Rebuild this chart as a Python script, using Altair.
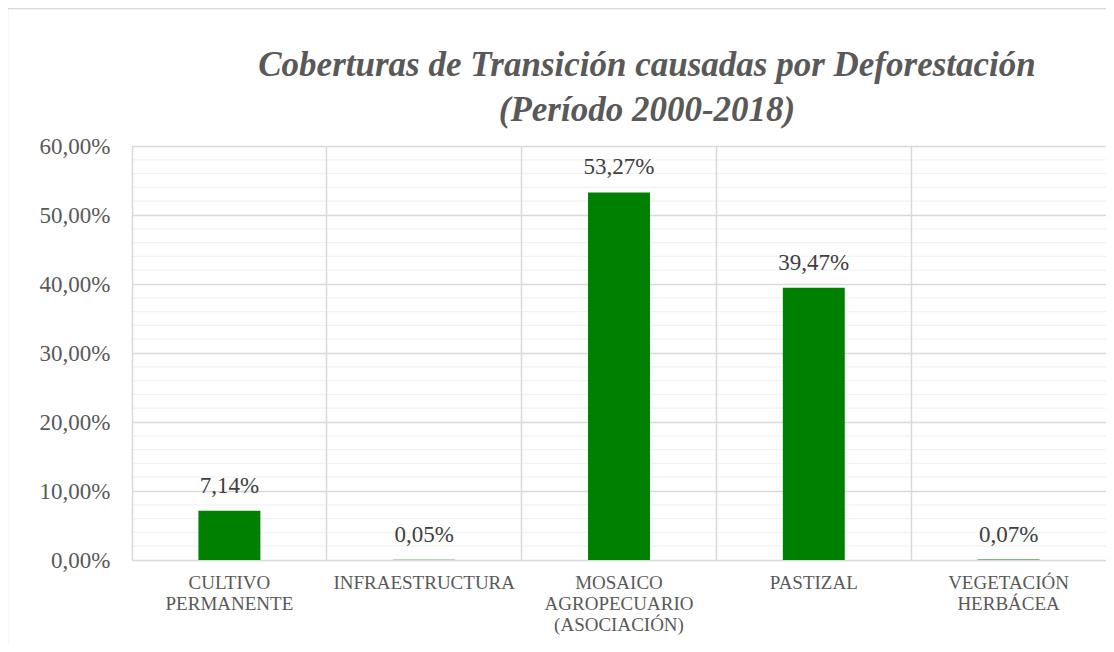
import altair as alt
import pandas as pd

# ---- data ----
categories = [
    "CULTIVO|PERMANENTE",
    "INFRAESTRUCTURA",
    "MOSAICO|AGROPECUARIO|(ASOCIACIÓN)",
    "PASTIZAL",
    "VEGETACIÓN|HERBÁCEA",
]
values = [0.0714, 0.0005, 0.5327, 0.3947, 0.0007]
y_ticks = [0.0, 0.1, 0.2, 0.3, 0.4, 0.5, 0.6]
minor_ticks = [0.02, 0.04, 0.06, 0.08, 0.12, 0.14, 0.16, 0.18, 0.22, 0.24, 0.26, 0.28,
               0.32, 0.34, 0.36, 0.38, 0.42, 0.44, 0.46, 0.48, 0.52, 0.54, 0.56, 0.58]
title_lines = ["Coberturas de Transición causadas por Deforestación", "(Período 2000-2018)"]

W, H = 974, 414
FONT = "Liberation Serif"
GRID = "#d9d9d9"

df = pd.DataFrame({"cat": categories, "v": values})
minor_df = pd.DataFrame({"g": minor_ticks})

y_scale = alt.Scale(domain=[0, 0.6])
y_axis = alt.Axis(
    values=y_ticks,
    labelExpr="replace(format(datum.value, '.2%'), '.', ',')",
    grid=True, gridColor=GRID, gridWidth=1.5,
    domain=False, ticks=False, title=None,
    labelFont=FONT, labelFontSize=23, labelColor="#595959", labelPadding=22,
)
x_enc = alt.X(
    "cat:N", sort=categories,
    scale=alt.Scale(paddingInner=0, paddingOuter=0),
    axis=alt.Axis(
        title=None, bandPosition=0, grid=True, gridColor=GRID, gridWidth=1.5,
        domain=False, ticks=False, labelAngle=0,
        labelExpr="split(datum.label, '|')", labelFont=FONT, labelFontSize=19,
        labelColor="#595959", labelLineHeight=21, labelPadding=13,
        labelBaseline="top", labelOverlap=False, labelLimit=300, zindex=1,
    ),
)

one = pd.DataFrame({"a": [0]})

frame = alt.Chart(one).mark_rect(
    fill=None, stroke=GRID, strokeWidth=1.5
).encode(
    x=alt.value(-124.5), x2=alt.value(1100), y=alt.value(-137.5), y2=alt.value(700)
)

title = alt.Chart(one).mark_text(
    font=FONT, fontSize=35, fontStyle="italic", fontWeight="bold", color="#595959",
    align="center", baseline="alphabetic", lineHeight=45,
).encode(
    x=alt.value(515), y=alt.value(-70.5), text=alt.value(title_lines)
)

minor = alt.Chart(minor_df).mark_rule(color="#f2f2f2", strokeWidth=1.3).encode(
    y=alt.Y("g:Q", scale=y_scale, axis=y_axis)
)

base = alt.Chart(df).transform_calculate(
    lab="replace(format(datum.v, '.2%'), '.', ',')"
)
bars = base.mark_bar(color="#008000", width=alt.RelativeBandSize(0.318)).encode(
    x=x_enc, y=alt.Y("v:Q", scale=y_scale, axis=y_axis)
)
texts = base.mark_text(
    baseline="alphabetic", dy=-18, font=FONT, fontSize=23, color="#404040"
).encode(
    x=x_enc, y=alt.Y("v:Q", scale=y_scale, axis=y_axis), text="lab:N"
)

chart = alt.layer(frame, title, minor, bars, texts).properties(
    width=W, height=H,
    autosize=alt.AutoSizeParams(type="none"),
    padding={"left": 124, "top": 138, "right": 0, "bottom": 84},
).configure_view(stroke=GRID, strokeWidth=1.5).configure(background="white")

chart.save("out.html", embed_options={"renderer": "svg", "actions": False})
